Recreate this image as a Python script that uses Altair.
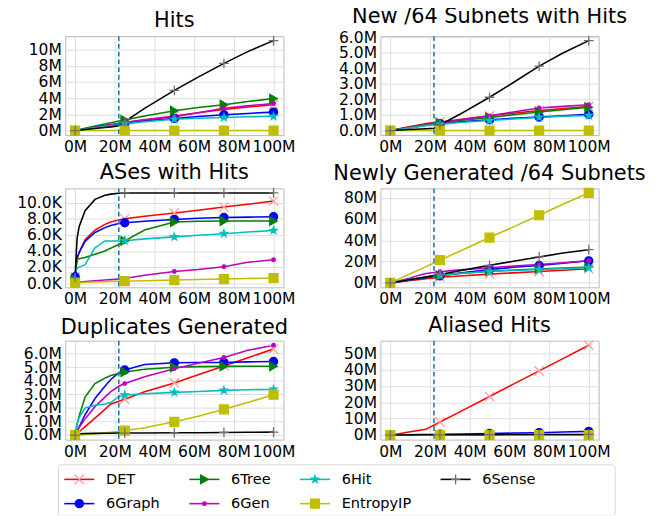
import altair as alt
import pandas as pd

SERIES = ["DET", "6Graph", "6Tree", "6Gen", "6Hit", "EntropyIP", "6Sense"]
LINE_COLORS = ["#ff0000", "#0000ff", "#008000", "#bf00bf", "#00bfbf", "#bfbf00", "#000000"]
MARKER_COLORS = ["#ff9c9c", "#0000ff", "#008000", "#bf00bf", "#00bfbf", "#bfbf00", "#6e6e6e"]

X_PATH = "M-1,-1L1,1M-1,1L1,-1"
PLUS_PATH = "M-1,0L1,0M0,-1L0,1"
STAR_PATH = ("M0,-1L0.225,-0.309L0.951,-0.309L0.363,0.118L0.588,0.809L0,0.382"
             "L-0.588,0.809L-0.363,0.118L-0.951,-0.309L-0.225,-0.309Z")
SHAPES = [X_PATH, "circle", "triangle-right", "circle", STAR_PATH, "square", PLUS_PATH]
SIZES = [90, 70, 80, 14, 60, 85, 100]

# x positions (millions of generated addresses)
X = [0, 0.5, 1, 2, 5, 10, 15, 18, 22, 25, 35, 50, 62, 75, 87, 100]
MARKER_X = [0, 25, 50, 75, 100]
SPLIT_X = [22]
X_TICKS = [0, 20, 40, 60, 80, 100]

# Hits (M)
HITS = {
    "DET":       [0, 0.02, 0.04, 0.08, 0.2, 0.4, 0.6, 0.72, 0.88, 1.0, 1.35, 1.8, 2.2, 2.6, 2.9, 3.2],
    "6Graph":    [0, 0.02, 0.04, 0.08, 0.2, 0.4, 0.58, 0.68, 0.82, 0.9, 1.2, 1.5, 1.75, 1.95, 2.12, 2.28],
    "6Tree":     [0, 0.03, 0.06, 0.12, 0.3, 0.55, 0.82, 0.98, 1.18, 1.3, 1.8, 2.45, 2.85, 3.2, 3.58, 3.95],
    "6Gen":      [0, 0.02, 0.04, 0.08, 0.2, 0.4, 0.6, 0.72, 0.88, 1.0, 1.35, 1.72, 2.2, 2.75, 3.05, 3.35],
    "6Hit":      [0, 0.02, 0.04, 0.08, 0.18, 0.35, 0.5, 0.6, 0.72, 0.8, 1.1, 1.4, 1.52, 1.62, 1.7, 1.76],
    "EntropyIP": [0, 0.0, 0.0, 0.0, 0.005, 0.01, 0.01, 0.01, 0.01, 0.01, 0.01, 0.01, 0.01, 0.01, 0.01, 0.01],
    "6Sense":    [0, 0.01, 0.03, 0.05, 0.13, 0.26, 0.38, 0.46, 0.6, 1.1, 2.75, 4.96, 6.6, 8.3, 9.75, 11.1],
}
HITS_TICKS = [0, 2, 4, 6, 8, 10]

# New /64 subnets with hits (M)
NEW64 = {
    "DET":       [0, 0.02, 0.03, 0.06, 0.13, 0.26, 0.38, 0.45, 0.52, 0.56, 0.72, 0.95, 1.12, 1.3, 1.42, 1.55],
    "6Graph":    [0, 0.01, 0.02, 0.04, 0.1, 0.2, 0.3, 0.36, 0.42, 0.45, 0.57, 0.7, 0.79, 0.87, 0.96, 1.05],
    "6Tree":     [0, 0.01, 0.02, 0.04, 0.11, 0.22, 0.33, 0.4, 0.47, 0.5, 0.65, 0.85, 1.02, 1.2, 1.35, 1.5],
    "6Gen":      [0, 0.01, 0.02, 0.04, 0.09, 0.18, 0.28, 0.34, 0.42, 0.46, 0.7, 0.95, 1.2, 1.46, 1.56, 1.67],
    "6Hit":      [0, 0.01, 0.02, 0.04, 0.09, 0.18, 0.27, 0.32, 0.37, 0.4, 0.52, 0.65, 0.75, 0.85, 0.92, 0.97],
    "EntropyIP": [0, 0.0, 0.0, 0.0, 0.002, 0.004, 0.005, 0.005, 0.005, 0.005, 0.005, 0.005, 0.005, 0.005, 0.005, 0.005],
    "6Sense":    [0, 0.005, 0.01, 0.02, 0.04, 0.07, 0.1, 0.12, 0.15, 0.36, 1.05, 2.15, 3.1, 4.16, 5.0, 5.8],
}
NEW64_TICKS = [0, 1, 2, 3, 4, 5, 6]

# ASes with hits (K)
ASES = {
    "DET":       [0.8, 2.2, 3.0, 3.8, 5.4, 6.6, 7.3, 7.6, 7.85, 8.0, 8.3, 8.7, 9.05, 9.45, 9.8, 10.2],
    "6Graph":    [0.8, 2.5, 3.2, 3.8, 5.2, 6.3, 6.9, 7.15, 7.4, 7.5, 7.7, 7.9, 8.05, 8.15, 8.2, 8.25],
    "6Tree":     [0.5, 2.0, 3.0, 3.05, 3.2, 3.6, 4.0, 4.35, 4.8, 5.25, 6.6, 7.6, 7.7, 7.72, 7.72, 7.72],
    "6Gen":      [0.1, 0.1, 0.12, 0.14, 0.2, 0.3, 0.4, 0.45, 0.52, 0.58, 1.0, 1.45, 1.7, 2.05, 2.6, 2.92],
    "6Hit":      [0.5, 1.5, 1.9, 2.0, 2.3, 4.4, 5.25, 5.25, 5.25, 5.28, 5.5, 5.75, 5.95, 6.15, 6.35, 6.55],
    "EntropyIP": [0.05, 0.06, 0.07, 0.08, 0.12, 0.16, 0.2, 0.22, 0.24, 0.26, 0.32, 0.4, 0.46, 0.52, 0.58, 0.65],
    "6Sense":    [0.7, 3.5, 5.6, 7.0, 9.0, 10.4, 10.9, 11.05, 11.15, 11.2, 11.2, 11.2, 11.2, 11.2, 11.2, 11.2],
}
ASES_TICKS = [0, 2, 4, 6, 8, 10]

# Newly generated /64 subnets (M)
GEN64 = {
    "DET":       [0, 0.1, 0.2, 0.4, 1.1, 2.2, 3.2, 3.8, 4.6, 5.2, 6.5, 8.2, 9.4, 10.6, 11.9, 13.2],
    "6Graph":    [0, 0.15, 0.3, 0.6, 1.4, 2.8, 4.1, 4.9, 5.9, 6.6, 9.3, 12.6, 14.6, 16.3, 18.5, 20.7],
    "6Tree":     [0, 0.15, 0.3, 0.6, 1.5, 3.0, 4.5, 5.4, 6.4, 7.0, 8.8, 11.0, 12.0, 13.0, 14.0, 15.0],
    "6Gen":      [0, 0.2, 0.4, 0.8, 2.2, 4.5, 7.5, 8.8, 9.8, 10.5, 12.2, 14.2, 15.8, 17.3, 19.0, 20.8],
    "6Hit":      [0, 0.17, 0.34, 0.7, 1.7, 3.4, 4.9, 5.8, 6.7, 7.2, 8.8, 10.6, 11.7, 12.6, 13.4, 14.2],
    "EntropyIP": [0, 0.4, 0.85, 1.7, 4.2, 8.5, 12.7, 15.3, 18.7, 21.3, 29.8, 42.6, 52.7, 63.6, 73.9, 84.6],
    "6Sense":    [0, 0.15, 0.3, 0.6, 1.5, 3.1, 4.6, 5.5, 6.8, 7.8, 11.4, 16.5, 20.3, 24.4, 28.0, 31.2],
}
GEN64_TICKS = [0, 20, 40, 60, 80]

# Duplicates generated (M)
DUPS = {
    "DET":       [0, 0.06, 0.12, 0.25, 0.62, 1.25, 1.9, 2.3, 2.5, 2.65, 3.2, 3.85, 4.45, 5.1, 5.7, 6.35],
    "6Graph":    [0, 0.15, 0.3, 0.6, 1.5, 2.7, 3.6, 4.1, 4.6, 4.8, 5.2, 5.33, 5.35, 5.36, 5.4, 5.43],
    "6Tree":     [0, 0.4, 0.8, 1.4, 2.8, 3.8, 4.2, 4.4, 4.55, 4.65, 4.85, 5.0, 5.05, 5.07, 5.08, 5.08],
    "6Gen":      [0, 0.15, 0.3, 0.55, 1.2, 2.1, 2.8, 3.2, 3.6, 3.8, 4.3, 4.9, 5.3, 5.72, 6.25, 6.63],
    "6Hit":      [0, 0.4, 0.8, 1.3, 2.0, 2.2, 2.3, 2.4, 2.85, 2.95, 3.05, 3.15, 3.22, 3.3, 3.35, 3.37],
    "EntropyIP": [0, 0.005, 0.01, 0.02, 0.05, 0.1, 0.17, 0.21, 0.27, 0.33, 0.55, 0.98, 1.4, 1.9, 2.4, 2.98],
    "6Sense":    [0, 0.05, 0.08, 0.1, 0.12, 0.13, 0.14, 0.14, 0.15, 0.15, 0.16, 0.17, 0.18, 0.2, 0.21, 0.22],
}
DUPS_TICKS = [0, 1, 2, 3, 4, 5, 6]

# Aliased hits (M)
ALIASED = {
    "DET":       [0, 0.1, 0.2, 0.4, 1.0, 2.0, 3.0, 3.6, 6.1, 8.0, 14.2, 23.6, 31.1, 39.2, 46.7, 54.9],
    "6Graph":    [0, 0.01, 0.02, 0.04, 0.1, 0.2, 0.3, 0.36, 0.44, 0.5, 0.7, 1.0, 1.25, 1.5, 1.9, 2.3],
    "6Tree":     [0, 0, 0, 0, 0.01, 0.02, 0.03, 0.03, 0.04, 0.04, 0.05, 0.06, 0.07, 0.08, 0.09, 0.1],
    "6Gen":      [0, 0, 0, 0, 0.01, 0.02, 0.03, 0.03, 0.04, 0.04, 0.05, 0.06, 0.07, 0.08, 0.09, 0.1],
    "6Hit":      [0, 0, 0, 0, 0.01, 0.02, 0.03, 0.03, 0.04, 0.04, 0.05, 0.06, 0.07, 0.08, 0.09, 0.1],
    "EntropyIP": [0, 0, 0, 0, 0, 0.01, 0.01, 0.01, 0.01, 0.01, 0.01, 0.01, 0.01, 0.01, 0.01, 0.01],
    "6Sense":    [0, 0.02, 0.04, 0.06, 0.1, 0.14, 0.17, 0.19, 0.2, 0.21, 0.25, 0.3, 0.33, 0.36, 0.38, 0.4],
}
ALIASED_TICKS = [0, 10, 20, 30, 40, 50]

PANELS = [
    ("Hits", HITS, HITS_TICKS, "datum.value + 'M'"),
    ("New /64 Subnets with Hits", NEW64, NEW64_TICKS, "format(datum.value, '.1f') + 'M'"),
    ("ASes with Hits", ASES, ASES_TICKS, "format(datum.value, '.1f') + 'K'"),
    ("Newly Generated /64 Subnets", GEN64, GEN64_TICKS, "datum.value + 'M'"),
    ("Duplicates Generated", DUPS, DUPS_TICKS, "format(datum.value, '.1f') + 'M'"),
    ("Aliased Hits", ALIASED, ALIASED_TICKS, "datum.value + 'M'"),
]

FONT = "DejaVu Sans"
PW, PH = 225, 102

STYLE = {s: {"lc": LINE_COLORS[i], "mc": MARKER_COLORS[i], "shape": SHAPES[i], "msize": SIZES[i]}
         for i, s in enumerate(SERIES)}

color_line = alt.Color("series:N", scale=alt.Scale(domain=SERIES, range=LINE_COLORS), legend=None)


def marker_encoding():
    return dict(fill=alt.Fill("mc:N", scale=None), stroke=alt.Stroke("mc:N", scale=None),
                shape=alt.Shape("shape:N", scale=None), size=alt.Size("msize:Q", scale=None))


def axis(vals, expr):
    return alt.Axis(values=vals, labelExpr=expr, title=None, tickCount=50,
                    labelFlush=False, labelOverlap=False, ticks=False, domain=False,
                    gridColor="#dddddd", labelPadding=4)


def make_panel(title, values, ticks, label_expr):
    rows = []
    for order, s in enumerate(SERIES):
        for xv, yv in zip(X, values[s]):
            rows.append({"series": s, "order": order, "x": xv, "y": yv, **STYLE[s]})
    df = pd.DataFrame(rows)
    ymin, ymax = df["y"].min(), df["y"].max()
    pad = 0.05 * (ymax - ymin)
    xenc = alt.X("x:Q", scale=alt.Scale(domain=[-5, 105], nice=False, zero=False),
                 axis=axis(X_TICKS, "datum.value + 'M'"))
    yenc = alt.Y("y:Q", scale=alt.Scale(domain=[ymin - pad, ymax + pad], nice=False, zero=False),
                 axis=axis(ticks, label_expr))
    lines = alt.Chart(df).mark_line(strokeWidth=1.6).encode(
        x=xenc, y=yenc, color=color_line, detail="series:N")
    vline = alt.Chart(pd.DataFrame({"x": SPLIT_X})).mark_rule(
        color="#1f77b4", strokeDash=[5, 3], strokeWidth=1.6).encode(x="x:Q")
    mdf = df[df["x"].isin(MARKER_X)]
    marks = alt.Chart(mdf).mark_point(filled=True, strokeWidth=1.3, opacity=1).encode(
        x="x:Q", y="y:Q", order="order:Q", **marker_encoding())
    return alt.layer(lines, vline, marks).properties(
        width=PW, height=PH,
        title=alt.TitleParams(title, fontSize=21.5, font=FONT, fontWeight="normal", offset=2))


panels = [make_panel(*p) for p in PANELS]
grid = alt.concat(*panels, columns=2, spacing={"row": 7, "column": 37}).resolve_scale(
    x="independent", y="independent")

# Legend (drawn as its own small chart, columns filled top-to-bottom like matplotlib ncol=4)
LEG_W, LEG_H = 574, 53
LEG_SHIFT = 7
COL_X = [6, 135, 249, 394]
ROW_Y = [15, 40]
leg_rows = []
for i, s in enumerate(SERIES):
    cx = COL_X[i // 2]
    leg_rows.append({"series": s, "x0": cx, "x1": cx + 31, "xm": cx + 15.5, "xt": cx + 43,
                     "y": ROW_Y[i % 2], **STYLE[s]})
ldf = pd.DataFrame(leg_rows)
lx = alt.Scale(domain=[LEG_SHIFT, LEG_W + LEG_SHIFT], nice=False, zero=False)
ly = alt.Scale(domain=[LEG_H, 0], nice=False, zero=False)
box = alt.Chart(pd.DataFrame({"a": [0], "b": [LEG_W], "t": [0], "u": [LEG_H]})).mark_rect(
    fill="white", stroke="#d6d6d6", strokeWidth=1, cornerRadius=3).encode(
    x=alt.X("a:Q", scale=lx, axis=None), x2="b:Q",
    y=alt.Y("t:Q", scale=ly, axis=None), y2="u:Q")
leg_lines = alt.Chart(ldf).mark_rule(strokeWidth=1.6).encode(
    x=alt.X("x0:Q", scale=lx, axis=None), x2="x1:Q",
    y=alt.Y("y:Q", scale=ly, axis=None), color=color_line)
leg_marks = alt.Chart(ldf).mark_point(filled=True, strokeWidth=1.3, opacity=1).encode(
    x=alt.X("xm:Q", scale=lx, axis=None), y=alt.Y("y:Q", scale=ly, axis=None),
    **marker_encoding())
leg_text = alt.Chart(ldf).mark_text(align="left", baseline="middle", fontSize=15, font=FONT,
                                    color="black").encode(
    x=alt.X("xt:Q", scale=lx, axis=None), y=alt.Y("y:Q", scale=ly, axis=None), text="series:N")
legend = alt.layer(box, leg_lines, leg_marks, leg_text).properties(
    width=LEG_W, height=LEG_H, view=alt.ViewBackground(stroke=None))

chart = alt.vconcat(grid, legend, spacing=4).resolve_scale(
    x="independent", y="independent").properties(
    padding={"left": 8, "top": -10, "right": 5, "bottom": 0}
).configure_view(stroke="#b8b8b8").configure_axis(
    labelFont=FONT, labelFontSize=16, labelColor="black"
).configure_title(font=FONT, color="black")

chart.save("out.html", embed_options={"renderer": "svg", "actions": False})
